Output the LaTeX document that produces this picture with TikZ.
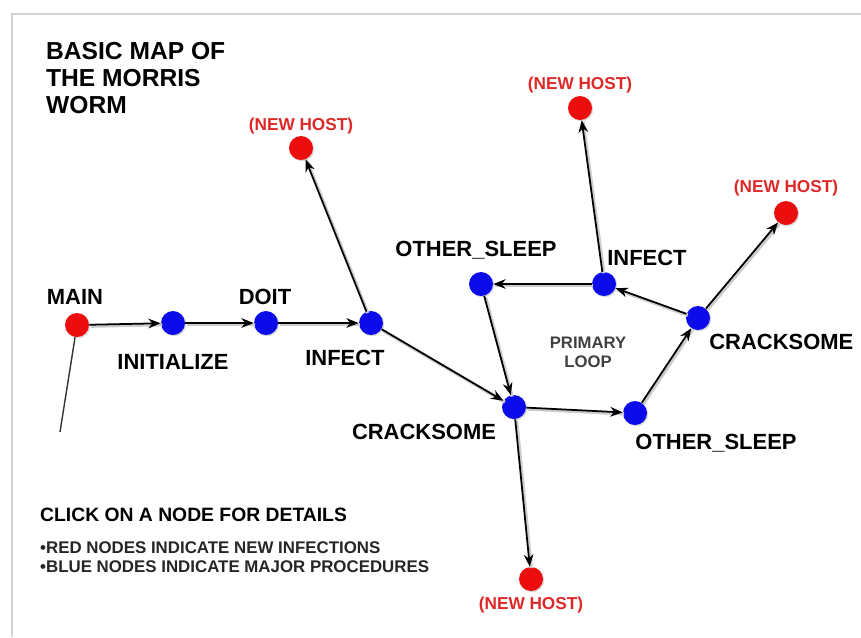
\documentclass[tikz,border=0pt]{standalone}
\usepackage{fontspec}
\setmainfont{Liberation Sans}
\usetikzlibrary{arrows.meta,positioning,shadows}
\definecolor{procblue}{RGB}{12,12,235}
\definecolor{hostred}{RGB}{236,14,14}
\definecolor{hosttext}{RGB}{222,40,40}
\definecolor{framegray}{RGB}{210,210,210}

\begin{document}
\begin{tikzpicture}[x=0.02cm,y=-0.02cm,every node/.style={font=\bfseries\fontsize{12.5}{14}\selectfont}]
\tikzset{
  proc/.style={circle,fill=procblue,minimum size=0.48cm,inner sep=0pt,
    drop shadow={opacity=.3,shadow xshift=.7pt,shadow yshift=-.7pt}},
  newhost/.style={circle,fill=hostred,minimum size=0.48cm,inner sep=0pt,
    drop shadow={opacity=.3,shadow xshift=.7pt,shadow yshift=-.7pt}},
  hostlabel/.style={text=hosttext,font=\bfseries\fontsize{9.8}{11}\selectfont},
  flow/.style={line width=1pt,-{Stealth[length=7pt,width=5.5pt]},
    preaction={draw=black!20,line width=1.9pt,-,transform canvas={shift={(.8pt,-.8pt)}}}}
}
\useasboundingbox (0,0) rectangle (861,637);
\draw[framegray,line width=1.2pt] (12,637) -- (12,14) -- (861,14);

% title
\node[anchor=west,align=left,font=\bfseries\fontsize{14}{15.4}\selectfont] (title) at (40,78) {BASIC MAP OF\\THE MORRIS\\WORM};

% nodes
\node[newhost] (main) at (77,325) {};
\node[proc] (init) at (173,323) {};
\node[proc] (doit) at (266,323) {};
\node[proc] (infA) at (371,323) {};
\node[newhost] (hostA) at (301,148) {};
\node[proc] (crackA) at (514,407) {};
\node[proc] (sleepA) at (635,413) {};
\node[proc] (crackB) at (698,318) {};
\node[newhost] (hostB) at (786,213) {};
\node[proc] (infB) at (604,284) {};
\node[newhost] (hostC) at (580,108) {};
\node[proc] (sleepB) at (481,284) {};
\node[newhost] (hostD) at (531,579) {};
\coordinate (mainTail) at (60,432);

% labels
\node (lmain) at (75,297) {MAIN};
\node (linit) at (173,362) {INITIALIZE};
\node (ldoit) at (265,297) {DOIT};
\node (linfA) at (345,358) {INFECT};
\node (lcrackA) at (424,432) {CRACKSOME};
\node (lsleepA) at (716,443) {OTHER\_SLEEP};
\node[anchor=west,inner xsep=0pt] (lcrackB) at (709,342) {CRACKSOME};
\node (linfB) at (647,258) {INFECT};
\node (lsleepB) at (476,250) {OTHER\_SLEEP};
\node[hostlabel] (lhostA) at (301,126) {(NEW HOST)};
\node[hostlabel] (lhostB) at (786,188) {(NEW HOST)};
\node[hostlabel] (lhostC) at (580,85) {(NEW HOST)};
\node[hostlabel] (lhostD) at (531,605) {(NEW HOST)};
\node[align=center,text=black!75,font=\bfseries\fontsize{9.5}{11}\selectfont] (loop) at (588,352) {PRIMARY\\LOOP};

% connectors
\draw[line width=.8pt,black!80] (main) -- (mainTail);
\draw[flow] (main) -- (init);
\draw[flow] (init) -- (doit);
\draw[flow] (doit) -- (infA);
\draw[flow] (infA) -- (hostA);
\draw[flow] (infA) -- (crackA);
\draw[flow] (crackA) -- (sleepA);
\draw[flow] (sleepA) -- (crackB);
\draw[flow] (crackB) -- (hostB);
\draw[flow] (crackB) -- (infB);
\draw[flow] (infB) -- (hostC);
\draw[flow] (infB) -- (sleepB);
\draw[flow] (sleepB) -- (crackA);
\draw[flow] (crackA) -- (hostD);

% legend
\node[anchor=west,font=\bfseries\fontsize{11}{13}\selectfont] (click) at (34,515) {CLICK ON A NODE FOR DETAILS};
\node[anchor=west,align=left,text=black!85,font=\bfseries\fontsize{9.6}{10.8}\selectfont] (legend) at (34,557) {{\textbullet}RED NODES INDICATE NEW INFECTIONS\\{\textbullet}BLUE NODES INDICATE MAJOR PROCEDURES};
\end{tikzpicture}
\end{document}
